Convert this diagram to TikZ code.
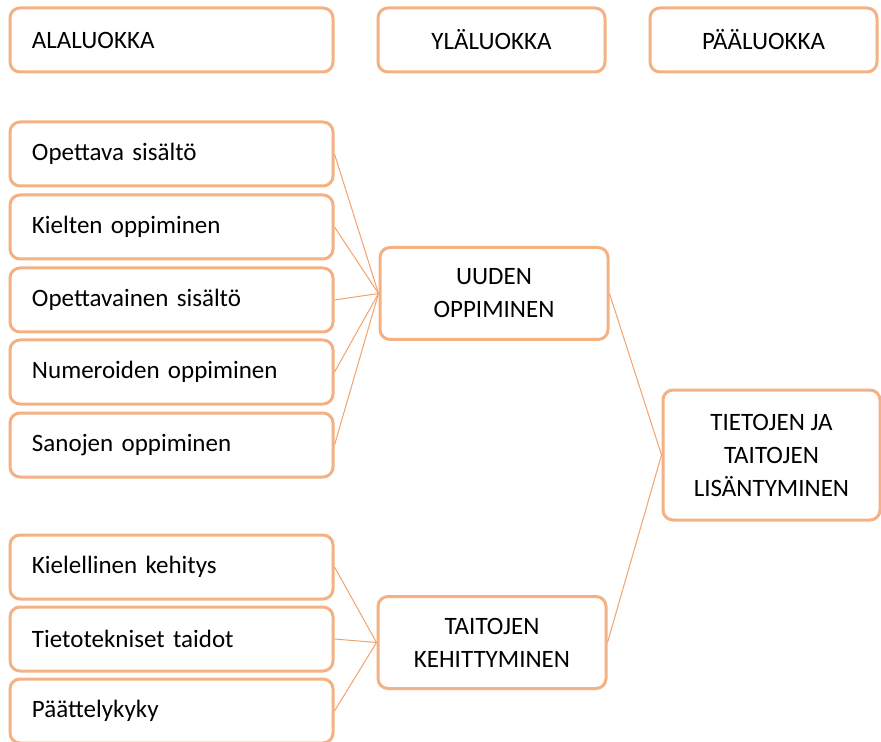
\documentclass[tikz,border=0pt]{standalone}
\usepackage{fontspec}
\setmainfont{Carlito}
\definecolor{boxorange}{HTML}{F4B183}
\definecolor{lineorange}{HTML}{F2A26B}

\begin{document}
\begin{tikzpicture}[
    x=0.5pt, y=-0.5pt,
    every node/.style={rectangle, draw=boxorange, line width=1.5pt, rounded corners=5pt, inner sep=0pt, font=\fontsize{12.5}{16.5}\selectfont},
    leftbox/.style={minimum width=161.5pt, minimum height=32pt, text width=139.5pt, align=left},
    headbox/.style={minimum width=113.5pt, minimum height=32pt, align=center},
    midbox/.style={minimum width=114pt, minimum height=46pt, align=center},
    link/.style={draw=lineorange, line width=0.5pt}
]
\useasboundingbox (0,0) rectangle (881,742);

% column headers
\node[leftbox] (ala) at (171.5,40) {ALALUOKKA};
\node[headbox] (yla) at (491.5,40) {YLÄLUOKKA};
\node[headbox] (paa) at (763.5,40) {PÄÄLUOKKA};

% lower classes
\node[leftbox] (opettava) at (171.5,154) {Opettava sisältö};
\node[leftbox] (kielten) at (171.5,227) {Kielten oppiminen};
\node[leftbox] (opettavainen) at (171.5,300) {Opettavainen sisältö};
\node[leftbox] (numeroiden) at (171.5,372) {Numeroiden oppiminen};
\node[leftbox] (sanojen) at (171.5,445) {Sanojen oppiminen};

\node[leftbox] (kielellinen) at (171.5,567) {Kielellinen kehitys};
\node[leftbox] (tietotekniset) at (171.5,639) {Tietotekniset taidot};
\node[leftbox] (paattely) at (171.5,711) {Päättelykyky};

% upper classes
\node[midbox] (uuden) at (494,293.5) {UUDEN\\OPPIMINEN};
\node[midbox] (taitojen) at (492,642.5) {TAITOJEN\\KEHITTYMINEN};

% main class
\node[minimum width=108.5pt, minimum height=65pt, align=center] (tietojen) at (771.5,455) {TIETOJEN JA\\TAITOJEN\\LISÄNTYMINEN};

% links
\foreach \n in {opettava,kielten,opettavainen,numeroiden,sanojen}
    \draw[link] (\n.east) -- (uuden.west);
\foreach \n in {kielellinen,tietotekniset,paattely}
    \draw[link] (\n.east) -- (taitojen.west);
\draw[link] (uuden.east) -- (tietojen.west);
\draw[link] (taitojen.east) -- (tietojen.west);

\end{tikzpicture}
\end{document}
